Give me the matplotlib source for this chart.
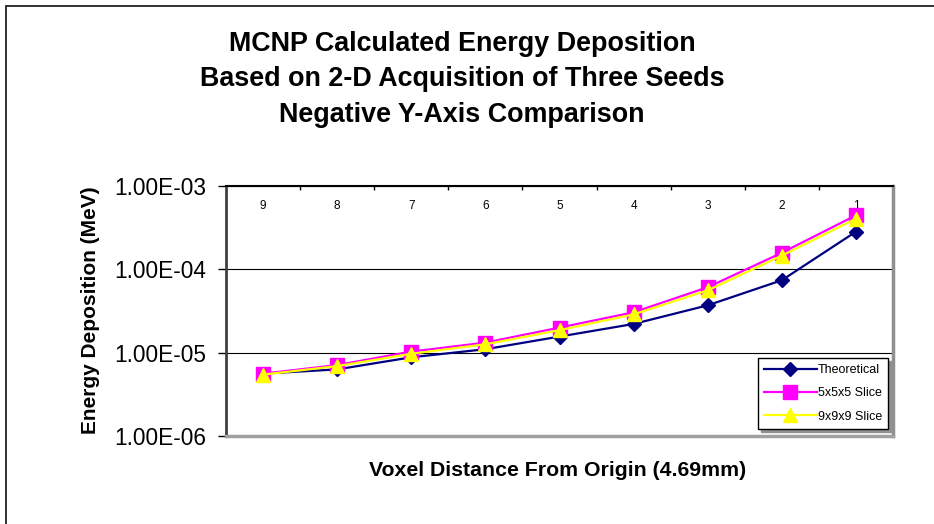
import numpy as np
import matplotlib
matplotlib.use("Agg")
import matplotlib.pyplot as plt
from matplotlib.patches import Rectangle
from matplotlib.ticker import FixedLocator, FuncFormatter

plt.rcParams['font.family'] = ['Liberation Sans', 'DejaVu Sans']

# voxel distance categories, as shown left to right
voxels = ['9', '8', '7', '6', '5', '4', '3', '2', '1']
theoretical = [5.6e-6, 6.3e-6, 8.8e-6, 1.10e-5, 1.56e-5, 2.21e-5, 3.70e-5, 7.4e-5, 2.83e-4]
slice_5 = [5.6e-6, 7.1e-6, 1.03e-5, 1.32e-5, 2.0e-5, 3.05e-5, 6.1e-5, 1.58e-4, 4.45e-4]
slice_9 = [5.45e-6, 6.9e-6, 9.7e-6, 1.26e-5, 1.86e-5, 2.88e-5, 5.6e-5, 1.46e-4, 4.05e-4]

W, H = 934, 524
fig = plt.figure(figsize=(W / 100, H / 100), dpi=100)

# outer chart border (only top and left visible)
fig.patches.append(Rectangle((6 / W, -0.1), 1.2, 1 - 6 / H + 0.1, transform=fig.transFigure,
                             fill=False, edgecolor='#222222', linewidth=1.3))

ax = fig.add_axes([226 / W, 1 - 436 / H, 667 / W, 250 / H])
x = np.arange(len(voxels))

ax.plot(x, theoretical, color='#000080', marker='D', markersize=7.5, linewidth=1.6,
        label='Theoretical', zorder=3)
ax.plot(x, slice_5, color='#FF00FF', marker='s', markersize=10.5, linewidth=1.6,
        label='5x5x5 Slice', zorder=4)
ax.plot(x, slice_9, color='#FFFF00', marker='^', markersize=10.5, linewidth=1.6,
        label='9x9x9 Slice', zorder=5)

ax.set_yscale('log')
ax.set_ylim(1e-6, 1e-3)
ax.set_xlim(-0.5, len(voxels) - 0.5)

ax.yaxis.set_major_locator(FixedLocator([1e-6, 1e-5, 1e-4, 1e-3]))
ax.yaxis.set_minor_locator(FixedLocator([]))
ax.yaxis.set_major_formatter(FuncFormatter(lambda v, p: '%.2E' % v))
ax.tick_params(axis='y', which='major', direction='out', length=6, width=1,
               labelsize=16.3, pad=8, color='black')
ax.grid(axis='y', which='major', color='black', linewidth=0.8)

# category axis sits on top, labels inside the plot
ax.xaxis.tick_top()
ax.set_xticks(x)
ax.set_xticklabels(voxels)
ax.set_xticks(np.arange(0.5, len(voxels) - 1, 1), minor=True)
ax.tick_params(axis='x', which='major', length=0, labelsize=8.5, pad=-19)
ax.tick_params(axis='x', which='minor', direction='in', length=3, width=1, top=True, bottom=False)

ax.spines['top'].set_color('black')
ax.spines['top'].set_linewidth(1.5)
ax.spines['left'].set_color('#404040')
ax.spines['left'].set_linewidth(2)
ax.spines['right'].set_color('#909090')
ax.spines['right'].set_linewidth(2.5)
ax.spines['bottom'].set_color('#a0a0a0')
ax.spines['bottom'].set_linewidth(2.5)

leg = ax.legend(loc='lower right', bbox_to_anchor=(0.993, 0.028), borderaxespad=0,
                fontsize=9, frameon=True, fancybox=False, edgecolor='black', framealpha=1,
                handlelength=4.2, labelspacing=0.9, borderpad=0.5, handletextpad=0.1,
                shadow={'color': '#909090', 'alpha': 1, 'ox': 2, 'oy': -2})
leg.get_frame().set_linewidth(1)

fig.text(462 / W, 1 - 44 / H, 'MCNP Calculated Energy Deposition', ha='center', va='center',
         fontsize=19.4, fontweight='bold')
fig.text(462 / W, 1 - 79 / H, 'Based on 2-D Acquisition of Three Seeds', ha='center', va='center',
         fontsize=19.4, fontweight='bold')
fig.text(462 / W, 1 - 115 / H, 'Negative Y-Axis Comparison', ha='center', va='center',
         fontsize=19.4, fontweight='bold')

fig.text(90 / W, 1 - 310 / H, 'Energy Deposition (MeV)', rotation=90, ha='center', va='center',
         fontsize=15, fontweight='bold')
fig.text(558 / W, 1 - 471 / H, 'Voxel Distance From Origin (4.69mm)', ha='center', va='center',
         fontsize=15.3, fontweight='bold')

plt.savefig('out.png', dpi=100)
